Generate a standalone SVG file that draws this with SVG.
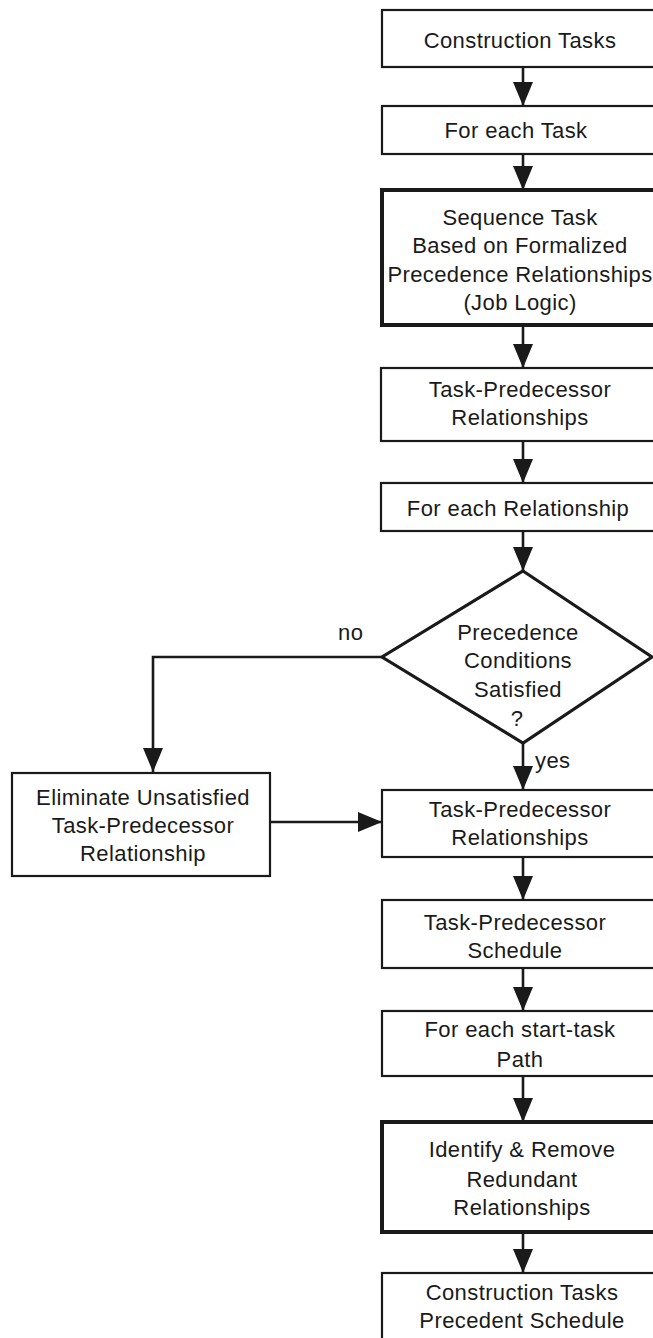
<svg xmlns="http://www.w3.org/2000/svg" width="653" height="1338" viewBox="0 0 653 1338">
<style>
.box{fill:#fff;stroke:#1a1a1a;stroke-width:2.2}
.thick{fill:#fff;stroke:#1a1a1a;stroke-width:4}
.dia{fill:#fff;stroke:#1a1a1a;stroke-width:3.2}
.t{font-family:"Liberation Sans",Arial,sans-serif;font-size:22px;fill:#1a1a1a;text-anchor:middle;letter-spacing:0.4px}
.lbl{font-family:"Liberation Sans",Arial,sans-serif;font-size:22px;fill:#1a1a1a;letter-spacing:0.4px}
.c{fill:none;stroke:#1a1a1a;stroke-width:2.6}
</style>
<defs>
<marker id="ah" viewBox="0 0 24 20" refX="24" refY="10" markerWidth="24" markerHeight="20" markerUnits="userSpaceOnUse" orient="auto">
<path d="M0,0 L24,10 L0,20 z" fill="#1a1a1a"/>
</marker>
</defs>
<rect width="653" height="1338" fill="#fff"/>
<g id="connectors">
<path class="c" d="M523,67 V106" marker-end="url(#ah)"/>
<path class="c" d="M523,154 V190" marker-end="url(#ah)"/>
<path class="c" d="M523,325 V368" marker-end="url(#ah)"/>
<path class="c" d="M523,441 V483" marker-end="url(#ah)"/>
<path class="c" d="M523,531 V571" marker-end="url(#ah)"/>
<path class="c" d="M523,743 V790" marker-end="url(#ah)"/>
<path class="c" d="M382,657 H153 V772" marker-end="url(#ah)"/>
<path class="c" d="M270,822 H382" marker-end="url(#ah)"/>
<path class="c" d="M523,857 V900" marker-end="url(#ah)"/>
<path class="c" d="M523,968 V1011" marker-end="url(#ah)"/>
<path class="c" d="M523,1076 V1122" marker-end="url(#ah)"/>
<path class="c" d="M523,1232 V1273" marker-end="url(#ah)"/>
<text class="lbl" x="338" y="640">no</text>
<text class="lbl" x="535" y="768">yes</text>
</g>
<g id="n1"><rect class="box" x="382" y="10" width="280" height="57"/><text class="t" x="520" y="48">Construction Tasks</text></g>
<g id="n2"><rect class="box" x="382" y="106" width="280" height="48"/><text class="t" x="516" y="138">For each Task</text></g>
<g id="n3"><rect class="thick" x="382" y="190" width="280" height="135"/>
<text class="t" x="520" y="225">Sequence Task</text>
<text class="t" x="520" y="253">Based on Formalized</text>
<text class="t" x="520" y="282">Precedence Relationships</text>
<text class="t" x="520" y="310">(Job Logic)</text></g>
<g id="n4"><rect class="box" x="381" y="368" width="280" height="73"/>
<text class="t" x="520" y="397">Task-Predecessor</text>
<text class="t" x="520" y="425">Relationships</text></g>
<g id="n5"><rect class="box" x="381" y="483" width="280" height="48"/><text class="t" x="518" y="516">For each Relationship</text></g>
<g id="n6"><polygon class="dia" points="523,571 652,657 523,743 382,657"/>
<text class="t" x="518" y="640">Precedence</text>
<text class="t" x="518" y="668">Conditions</text>
<text class="t" x="518" y="697">Satisfied</text>
<text class="t" x="517" y="726">?</text></g>
<g id="n7"><rect class="box" x="12" y="773" width="258" height="103"/>
<text class="t" x="143" y="805">Eliminate Unsatisfied</text>
<text class="t" x="143" y="833">Task-Predecessor</text>
<text class="t" x="143" y="861">Relationship</text></g>
<g id="n8"><rect class="box" x="382" y="790" width="280" height="67"/>
<text class="t" x="520" y="817">Task-Predecessor</text>
<text class="t" x="520" y="845">Relationships</text></g>
<g id="n9"><rect class="box" x="382" y="900" width="280" height="68"/>
<text class="t" x="515" y="930">Task-Predecessor</text>
<text class="t" x="515" y="958">Schedule</text></g>
<g id="n10"><rect class="box" x="382" y="1011" width="280" height="65"/>
<text class="t" x="520" y="1037">For each start-task</text>
<text class="t" x="520" y="1067">Path</text></g>
<g id="n11"><rect class="thick" x="382" y="1122" width="280" height="110"/>
<text class="t" x="522" y="1157">Identify &amp; Remove</text>
<text class="t" x="522" y="1187">Redundant</text>
<text class="t" x="522" y="1215">Relationships</text></g>
<g id="n12"><rect class="box" x="382" y="1273" width="280" height="80"/>
<text class="t" x="522" y="1300">Construction Tasks</text>
<text class="t" x="522" y="1328">Precedent Schedule</text></g>
</svg>
